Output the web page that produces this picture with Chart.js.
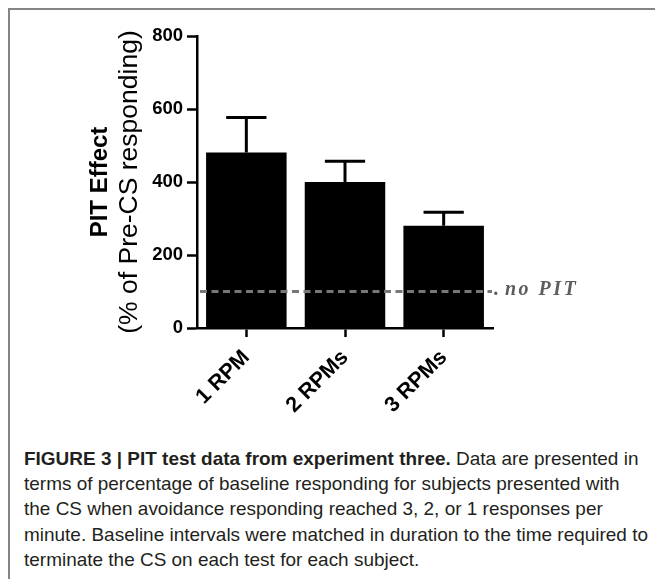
<!DOCTYPE html>
<html>
<head>
<meta charset="utf-8">
<title>PIT test data</title>
<script src="https://cdn.jsdelivr.net/npm/chart.js@4.4.0/dist/chart.umd.min.js"></script>
<style>
  html, body { margin: 0; padding: 0; background: #fff; }
  body { width: 655px; height: 579px; position: relative; overflow: hidden; }
  #frame {
    position: absolute; left: 8px; top: 8px; width: 700px; height: 620px;
    border-top: 2px solid #858585; border-left: 2px solid #858585;
  }
  #chartBox { position: absolute; left: 0; top: 0; width: 655px; height: 420px; }
  #caption {
    position: absolute; left: 24px; top: 446px;
    font-family: "Liberation Sans", Arial, sans-serif;
    font-size: 19px; line-height: 25.2px; color: #231f20; white-space: nowrap;
    transform-origin: 0 0;
  }
  #caption span { display: block; }
</style>
</head>
<body>
<div id="frame"></div>
<div id="chartBox"><canvas id="pitChart"></canvas></div>
<div id="caption">
  <span><b>FIGURE 3 | PIT test data from experiment three.</b> Data are presented in</span>
  <span>terms of percentage of baseline responding for subjects presented with</span>
  <span>the CS when avoidance responding reached 3, 2, or 1 responses per</span>
  <span id="longLine">minute. Baseline intervals were matched in duration to the time required to</span>
  <span>terminate the CS on each test for each subject.</span>
</div>
<script>
// values
const categories = ['1 RPM', '2 RPMs', '3 RPMs'];
const meanValues = [481, 400, 280];
const upperErrors = [577, 457, 317];
const noPitLevel = 100;
const yTicks = [0, 200, 400, 600, 800];

const sans = '"Liberation Sans", Arial, sans-serif';

// squeeze the caption into a condensed look (longest line ~624px wide)
const longLine = document.getElementById('longLine');
longLine.style.display = 'inline-block';
const natural = longLine.getBoundingClientRect().width;
longLine.style.display = 'block';
document.getElementById('caption').style.transform = 'scaleX(' + (624 / natural) + ')';

// upper error bars with caps
const errorBars = {
    id: 'errorBars',
    afterDatasetsDraw(chart) {
        const ctx = chart.ctx;
        const y = chart.scales.y;
        ctx.save();
        ctx.strokeStyle = '#000';
        ctx.lineWidth = 3;
        chart.getDatasetMeta(0).data.forEach((bar, i) => {
            const yTop = y.getPixelForValue(meanValues[i]);
            const yErr = y.getPixelForValue(upperErrors[i]);
            const half = bar.width / 4;
            ctx.beginPath();
            ctx.moveTo(bar.x, yTop);
            ctx.lineTo(bar.x, yErr);
            ctx.moveTo(bar.x - half, yErr);
            ctx.lineTo(bar.x + half, yErr);
            ctx.stroke();
        });
        ctx.restore();
    }
};

// dashed "no PIT" reference line
const noPitLine = {
    id: 'noPitLine',
    afterDraw(chart) {
        const ctx = chart.ctx;
        const area = chart.chartArea;
        const yPix = chart.scales.y.getPixelForValue(noPitLevel);
        ctx.save();
        ctx.strokeStyle = '#777';
        ctx.lineWidth = 3;
        ctx.setLineDash([7, 4.5]);
        ctx.beginPath();
        ctx.moveTo(area.left + 3, yPix);
        ctx.lineTo(area.right - 1, yPix);
        ctx.stroke();
        ctx.setLineDash([]);
        ctx.fillStyle = '#5e5e5e';
        ctx.font = 'italic bold 20px "Liberation Serif", "Times New Roman", serif';
        ctx.textBaseline = 'alphabetic';
        ctx.textAlign = 'left';
        ctx.fillText('.', area.right + 1, yPix + 3);
        ctx.letterSpacing = '2.5px';
        ctx.fillText('no PIT', area.right + 12, yPix + 3);
        ctx.restore();
    }
};

// two-line y title, bold first line
const yTitle = {
    id: 'yTitle',
    afterDraw(chart) {
        const ctx = chart.ctx;
        const area = chart.chartArea;
        const cy = (area.top + area.bottom) / 2;
        ctx.save();
        ctx.fillStyle = '#000';
        ctx.textAlign = 'center';
        ctx.textBaseline = 'middle';
        ctx.translate(100, cy);
        ctx.rotate(-Math.PI / 2);
        ctx.font = 'bold 24px ' + sans;
        ctx.fillText('PIT Effect', 0, 0);
        ctx.font = '26.5px ' + sans;
        ctx.fillText('(% of Pre-CS responding)', 0, 30);
        ctx.restore();
    }
};

new Chart(document.getElementById('pitChart'), {
    type: 'bar',
    data: {
        labels: categories,
        datasets: [{
            data: meanValues,
            backgroundColor: '#000',
            borderWidth: 0,
            barPercentage: 0.816,
            categoryPercentage: 1
        }]
    },
    options: {
        responsive: true,
        maintainAspectRatio: false,
        animation: false,
        layout: { padding: { left: 0, top: 36, right: 162, bottom: 0 } },
        plugins: { legend: { display: false }, tooltip: { enabled: false } },
        scales: {
            x: {
                offset: true,
                afterFit: s => { s.height = 92; },
                grid: {
                    offset: false, drawOnChartArea: false, drawTicks: true,
                    tickLength: 9, tickWidth: 2.5, tickColor: '#000'
                },
                border: { display: true, color: '#000', width: 2.5 },
                ticks: {
                    color: '#000', font: { family: sans, size: 21.5, weight: 'bold' },
                    minRotation: 45, maxRotation: 45, padding: 8
                }
            },
            y: {
                min: 0, max: 800,
                afterFit: s => { s.width = 197; },
                afterBuildTicks: s => { s.ticks = yTicks.map(v => ({ value: v })); },
                grid: {
                    drawOnChartArea: false, drawTicks: true,
                    tickLength: 10, tickWidth: 2.5, tickColor: '#000'
                },
                border: { display: true, color: '#000', width: 2.5 },
                ticks: {
                    color: '#000', font: { family: sans, size: 18.5, weight: 'bold' },
                    padding: 4
                }
            }
        }
    },
    plugins: [errorBars, noPitLine, yTitle]
});
</script>
</body>
</html>
